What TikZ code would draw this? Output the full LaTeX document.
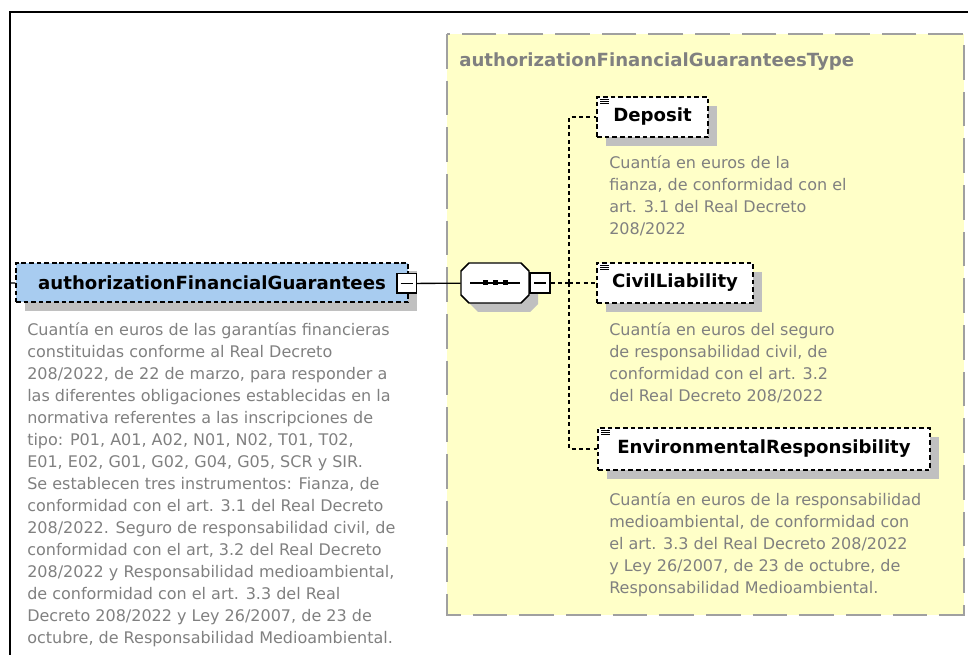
\documentclass[tikz,border=0pt]{standalone}
\usepackage{fontspec}
\setmainfont{DejaVu Sans}
\usetikzlibrary{shadows}

\definecolor{typefill}{RGB}{255,255,200}
\definecolor{typeline}{RGB}{160,160,160}
\definecolor{elemfill}{RGB}{168,204,240}
\definecolor{doctext}{RGB}{128,128,128}
\definecolor{shadegray}{RGB}{192,192,192}

\tikzset{
  elembox/.style={draw, dash pattern=on 3.5pt off 2.2pt, line width=1.1pt, fill=white,
    minimum height=30pt, inner sep=0pt, font=\fontsize{13.6}{16}\selectfont\bfseries,
    drop shadow={shadow xshift=6.5pt, shadow yshift=-6.5pt, fill=shadegray, opacity=1}},
  minusbox/.style={draw, fill=white, line width=1pt, minimum size=14.5pt, inner sep=0pt},
  doc/.style={anchor=north west, align=left, inner sep=0pt, text=doctext,
    font=\fontsize{12}{16.5}\selectfont},
  conn/.style={line width=1pt},
  dconn/.style={conn, dash pattern=on 3pt off 2.5pt},
}

\begin{document}
\begin{tikzpicture}[x=0.75pt,y=-0.75pt]
\useasboundingbox (0,0) rectangle (968,655);

% frame and type container
\draw[line width=1.1pt] (10,655) -- (10,12) -- (968,12);
\draw[draw=typeline, fill=typefill, line width=1.8pt, dash pattern=on 26pt off 9pt]
  (447,34) rectangle (964,615);
\node[anchor=base west, inner sep=0pt, text=doctext, font=\fontsize{13.6}{16}\selectfont\bfseries]
  (typename) at (459,67) {authorizationFinancialGuaranteesType};

% sequence compositor (octagon)
\begin{scope}[shift={(495,283)}]
\fill[shadegray, shift={(9,9)}] (-26,-20) -- (26,-20) -- (34,-12) -- (34,12) -- (26,20) -- (-26,20) -- (-34,12) -- (-34,-12) -- cycle;
\filldraw[fill=white, line width=1.1pt] (-26,-20) -- (26,-20) -- (34,-12) -- (34,12) -- (26,20) -- (-26,20) -- (-34,12) -- (-34,-12) -- cycle;
\end{scope}
\node[minimum width=51pt, minimum height=30pt, inner sep=0pt] (seq) at (495,283) {};

% elements
\node[elembox, fill=elemfill, minimum width=294pt, minimum height=29.5pt] (afg) at (212,282.5) {authorizationFinancialGuarantees};
\node[minusbox] (afgm) at (406.5,283.5) {};
\node[minusbox, minimum size=15pt] (seqm) at (540,283) {};

\node[elembox, minimum width=83pt] (dep) at (652.5,117) {Deposit};
\node[elembox, minimum width=117pt] (civ) at (675,283) {CivilLiability};
\node[elembox, minimum width=249pt, minimum height=31.5pt] (env) at (764,449) {EnvironmentalResponsibility};

% annotations
\node[doc] (afgdoc) at (27,322) {Cuantía en euros de las garantías financieras\\
constituidas conforme al Real Decreto\\
208/2022, de 22 de marzo, para responder a\\
las diferentes obligaciones establecidas en la\\
normativa referentes a las inscripciones de\\
tipo: P01, A01, A02, N01, N02, T01, T02,\\
E01, E02, G01, G02, G04, G05, SCR y SIR.\\
Se establecen tres instrumentos: Fianza, de\\
conformidad con el art. 3.1 del Real Decreto\\
208/2022. Seguro de responsabilidad civil, de\\
conformidad con el art, 3.2 del Real Decreto\\
208/2022 y Responsabilidad medioambiental,\\
de conformidad con el art. 3.3 del Real\\
Decreto 208/2022 y Ley 26/2007, de 23 de\\
octubre, de Responsabilidad Medioambiental.};
\node[doc] (depdoc) at (609,155) {Cuantía en euros de la\\
fianza, de conformidad con el\\
art. 3.1 del Real Decreto\\
208/2022};
\node[doc] (civdoc) at (609,322) {Cuantía en euros del seguro\\
de responsabilidad civil, de\\
conformidad con el art. 3.2\\
del Real Decreto 208/2022};
\node[doc] (envdoc) at (609,492) {Cuantía en euros de la responsabilidad\\
medioambiental, de conformidad con\\
el art. 3.3 del Real Decreto 208/2022\\
y Ley 26/2007, de 23 de octubre, de\\
Responsabilidad Medioambiental.};

% minus signs, sequence dots, doc marks
\foreach \m in {afgm,seqm}
  \draw[conn] ([xshift=-4.5pt]\m.center) -- ([xshift=4.5pt]\m.center);
\draw[conn] ([xshift=7pt]seq.west) -- ([xshift=-7pt]seq.east);
\foreach \d in {-10,0,10}
  \fill ([shift={(\d,0)}]seq.center) +(-2,-2.5) rectangle +(2.5,2.5);
\foreach \n in {dep,civ,env}
  \foreach \k in {0,1,2}
    \draw[line width=0.6pt] ([shift={(4,3+2.2*\k)}]\n.north west) -- ++(9,0);

% connectors
\coordinate (parent) at (10,283);
\coordinate (fork) at (569,283);
\draw[conn] (parent) -- (afg);
\draw[conn] (afgm) -- (seq);
\draw[dconn] (seqm) -- (fork);
\draw[dconn] (fork) |- (dep);
\draw[dconn] (fork) -- (civ);
\draw[dconn] (fork) |- (env);
\end{tikzpicture}
\end{document}
